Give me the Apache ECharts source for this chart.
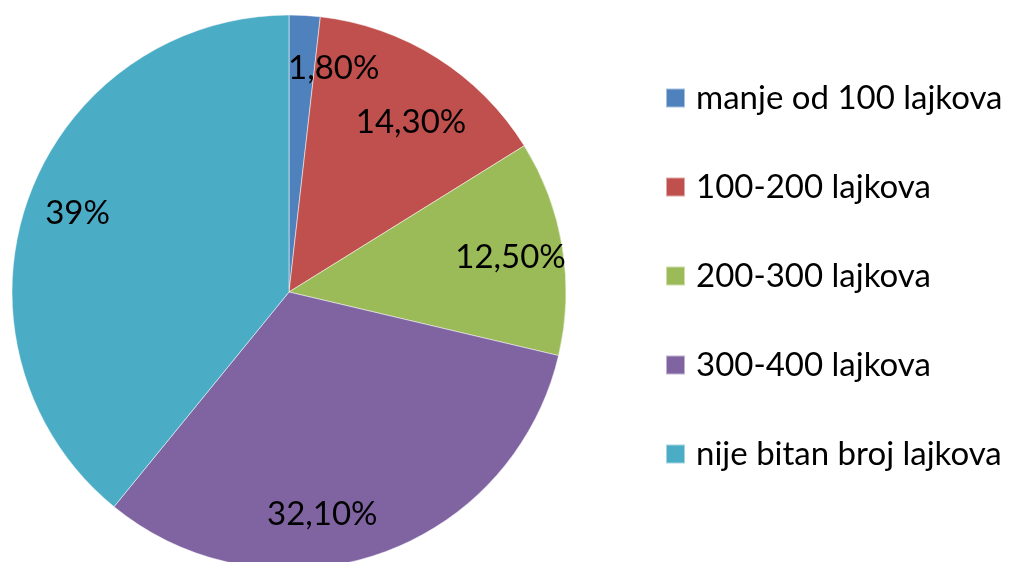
<!DOCTYPE html>
<html>
<head>
<meta charset="utf-8">
<script src="https://cdn.jsdelivr.net/npm/echarts@6/dist/echarts.min.js"></script>
<style>
	html, body { margin: 0; padding: 0; background: #fff; }
	#pie1 { width: 1017px; height: 562px; }
</style>
</head>
<body>
<div id="pie1"></div>
<script>
var categories = ['manje od 100 lajkova', '100-200 lajkova', '200-300 lajkova', '300-400 lajkova', 'nije bitan broj lajkova'];
var shares = [1.8, 14.3, 12.5, 32.1, 39];
var colors = ['#4F81BD', '#C0504D', '#9BBB59', '#8064A2', '#4BACC6'];

function fmt(v) {
	// 39 -> "39%", 1.8 -> "1,80%"
	if (Number.isInteger(v)) return v + '%';
	return v.toFixed(2).replace('.', ',') + '%';
}

// label nudges, the original places some labels off the slice middle
var labelNudge = [[32, 0], [2, 20], [0, 2], [-39, 10], [0, -3]];

var dataSer = [];
var labelSer = [];
for (var i = 0; i < categories.length; i++) {
	dataSer.push({ name: categories[i], value: shares[i] });
	labelSer.push({ name: categories[i], value: shares[i], label: { offset: labelNudge[i] } });
}

var dom = document.getElementById('pie1');
var myChart = echarts.init(dom);
var font = 'Lato, "Open Sans", sans-serif';
var option = {
	animation: false,
	color: colors,
	legend: {
		orient: 'vertical',
		left: 660,
		top: 73,
		itemWidth: 19,
		itemHeight: 19,
		itemGap: 49,
		icon: 'rect',
		textStyle: {
			color: '#000',
			fontSize: 33,
			lineHeight: 40,
			fontFamily: font,
			padding: [0, 0, 0, 6]
		},
		data: categories
	},
	series: [{
			// the solid pie
			name: 'lajkovi',
			type: 'pie',
			radius: 277,
			center: [289, 292],
			startAngle: 90,
			clockwise: true,
			data: dataSer,
			label: { show: false },
			labelLine: { show: false },
			itemStyle: {
				borderColor: 'rgba(255,255,255,0.5)',
				borderWidth: 1
			}
		},
		{
			// transparent ring just to put the labels at ~80% of the radius
			name: 'labels',
			type: 'pie',
			radius: [166, 277],
			center: [289, 292],
			startAngle: 90,
			clockwise: true,
			silent: true,
			data: labelSer,
			itemStyle: { color: 'rgba(0,0,0,0)' },
			label: {
				show: true,
				position: 'inside',
				color: '#000',
				fontSize: 33,
				fontFamily: font,
				formatter: function(p) {
					return fmt(p.value);
				}
			},
			labelLine: { show: false }
		}
	]
};
myChart.setOption(option);
</script>
</body>
</html>
